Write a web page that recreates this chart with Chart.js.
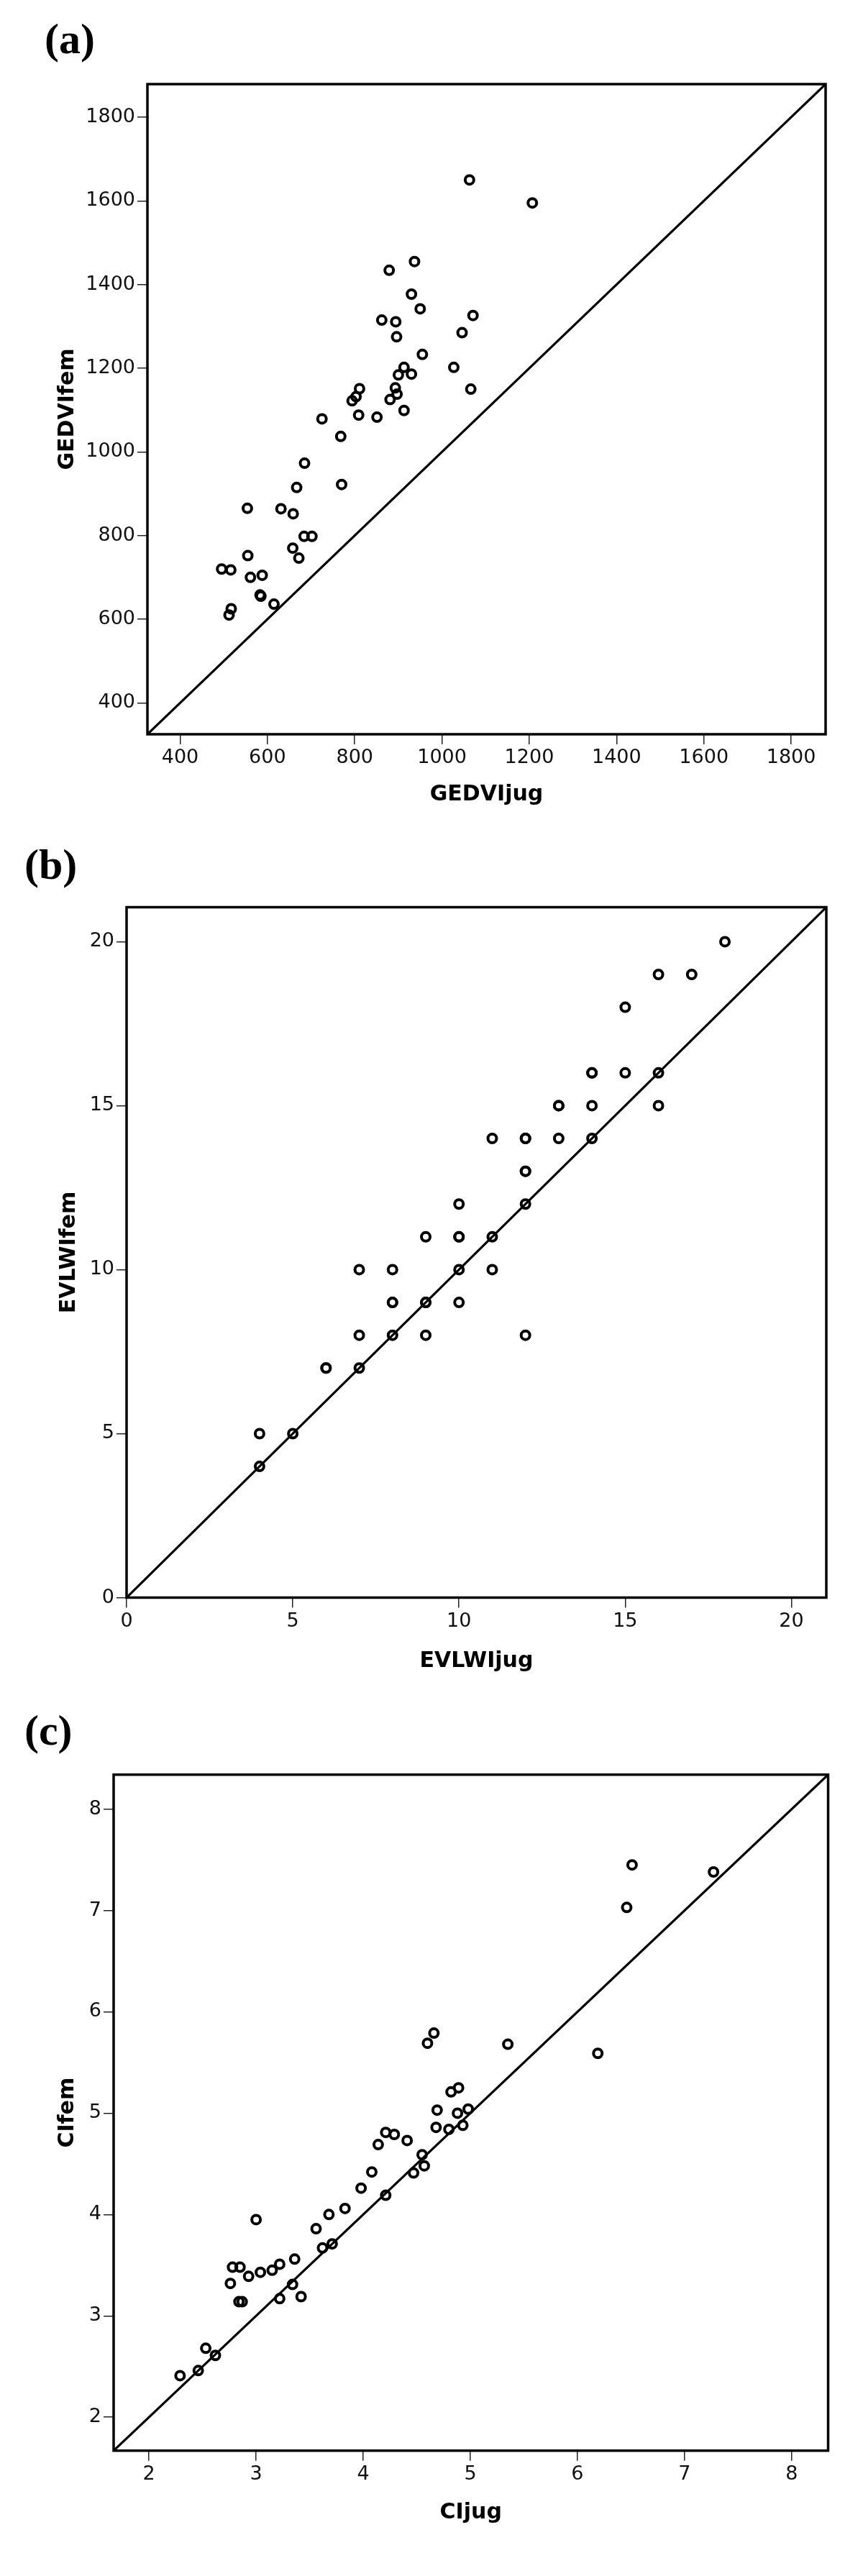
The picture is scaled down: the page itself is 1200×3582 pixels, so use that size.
<!DOCTYPE html>
<html>
<head>
  <meta charset="utf-8">
  <title>Femoral vs jugular: GEDVI, EVLWI, CI</title>
  <script src="https://cdn.jsdelivr.net/npm/chart.js"></script>
  <style>
    body { margin: 0; background: #fff; }
    #page { position: relative; width: 1200px; height: 3582px; }
    .panel-label {
      position: absolute;
      font-family: "Liberation Serif", serif;
      font-weight: bold;
      font-size: 60px;
      line-height: 60px;
      color: #000;
    }
    .chart-box { position: absolute; left: 0; width: 1200px; }
  </style>
</head>
<body>
<div id="page">
  <div class="panel-label" style="left:62px;top:24px">(a)</div>
  <div class="chart-box" style="top:0;height:1160px"><canvas id="chartA"></canvas></div>

  <div class="panel-label" style="left:34px;top:1172px">(b)</div>
  <div class="chart-box" style="top:1160px;height:1200px"><canvas id="chartB"></canvas></div>

  <div class="panel-label" style="left:34px;top:2376px">(c)</div>
  <div class="chart-box" style="top:2360px;height:1222px"><canvas id="chartC"></canvas></div>
</div>

<script>
  // (a) GEDVI
  const gedviJug = [1063,1207,937,879,930,950,1071,862,894,1046,896,955,1027,913,900,930,1066,811,893,897,
                    803,794,881,913,809,851,725,768,685,667,770,554,631,659,684,702,658,672,555,495,
                    516,561,588,583,585,615,517,512];
  const gedviFem = [1650,1595,1455,1434,1377,1342,1326,1315,1311,1285,1275,1233,1202,1202,1184,1186,1150,1151,1153,1138,
                    1132,1122,1125,1099,1088,1083,1079,1037,973,915,922,865,864,852,798,798,770,746,752,720,
                    718,700,705,658,655,636,625,610];
  const gedviTicks = [400,600,800,1000,1200,1400,1600,1800];
  const gedviMin = 325, gedviMax = 1879;

  // (b) EVLWI
  const evlwiJug = [18,16,17,15,14,14,15,16,13,13,14,16,11,12,12,13,14,12,12,10,
                    12,9,10,10,11,7,8,10,11,8,8,9,9,10,7,8,9,12,6,6,7,4,5,4];
  const evlwiFem = [20,19,19,18,16,16,16,16,15,15,15,15,14,14,14,14,14,13,13,12,
                    12,11,11,11,11,10,10,10,10,9,9,9,9,9,8,8,8,8,7,7,7,5,5,4];
  const evlwiTicks = [0,5,10,15,20];
  const evlwiMin = 0, evlwiMax = 21.05;

  // (c) CI
  const ciJug = [6.51,6.46,7.27,4.66,4.60,5.35,6.19,4.82,4.89,4.69,4.88,4.98,4.68,4.80,4.93,4.21,4.29,4.14,4.41,4.55,
                 4.57,4.47,4.08,3.98,4.21,3.83,3.68,3.00,3.56,3.62,3.71,3.36,3.22,3.15,3.04,2.93,2.78,2.85,2.76,3.34,
                 2.84,2.87,3.22,3.42,2.53,2.62,2.46,2.29];
  const ciFem = [7.45,7.03,7.38,5.79,5.69,5.68,5.59,5.21,5.25,5.03,5.00,5.04,4.86,4.84,4.88,4.81,4.79,4.69,4.73,4.59,
                 4.48,4.41,4.42,4.26,4.19,4.06,4.00,3.95,3.86,3.67,3.71,3.56,3.51,3.45,3.43,3.39,3.48,3.48,3.32,3.31,
                 3.14,3.14,3.17,3.19,2.68,2.61,2.46,2.41];
  const ciTicks = [2,3,4,5,6,7,8];
  const ciMin = 1.67, ciMax = 8.34;

  // box around the plot area
  const framePlugin = {
    id: 'frame',
    afterDatasetsDraw(chart) {
      const {ctx, chartArea: a} = chart;
      ctx.save();
      ctx.strokeStyle = '#000';
      ctx.lineWidth = 3.5;
      ctx.strokeRect(a.left, a.top, a.right - a.left, a.bottom - a.top);
      ctx.restore();
    }
  };

  function axis(title, min, max, tickValues, size, titlePad, horizontal) {
    return {
      type: 'linear',
      min: min,
      max: max,
      afterBuildTicks: s => { s.ticks = tickValues.map(v => ({value: v})); },
      afterFit: s => { if (horizontal) s.height = size; else s.width = size; },
      grid: { drawOnChartArea: false, drawTicks: true, tickLength: 14, lineWidth: 1.5, tickWidth: 1.5, tickColor: '#222' },
      border: { display: false },
      ticks: { autoSkip: false, maxRotation: 0, padding: 3, color: '#111',
               callback: v => String(v),
               font: { family: 'DejaVu Sans', size: 27 } },
      title: { display: true, text: title, color: '#000',
               font: { family: 'DejaVu Sans', size: 30, weight: 'bold' },
               padding: horizontal ? {top: 0, bottom: titlePad} : {top: titlePad, bottom: 0} }
    };
  }

  function makeChart(id, xs, ys, lo, hi, ticks, xTitle, yTitle, lay) {
    new Chart(document.getElementById(id).getContext('2d'), {
      type: 'scatter',
      data: {
        datasets: [
          {
            type: 'line',
            data: [{x: lo, y: lo}, {x: hi, y: hi}],
            borderColor: '#000',
            borderWidth: 3.2,
            pointRadius: 0,
            fill: false
          },
          {
            data: xs.map((x, i) => ({x: x, y: ys[i]})),
            pointStyle: 'circle',
            pointRadius: 6,
            pointHoverRadius: 6,
            borderWidth: 4,
            borderColor: '#000',
            backgroundColor: 'rgba(0,0,0,0)'
          }
        ]
      },
      options: {
        responsive: true,
        maintainAspectRatio: false,
        animation: false,
        layout: { padding: { left: 0, top: lay.top, right: lay.right, bottom: 0 } },
        plugins: { legend: { display: false }, tooltip: { enabled: false } },
        scales: {
          x: axis(xTitle, lo, hi, ticks, lay.xh, lay.xpad, true),
          y: axis(yTitle, lo, hi, ticks, lay.yw, lay.ypad, false)
        }
      },
      plugins: [framePlugin]
    });
  }

  makeChart('chartA', gedviJug, gedviFem, gedviMin, gedviMax, gedviTicks, 'GEDVIjug', 'GEDVIfem',
            {top: 117, right: 52, xh: 139, xpad: 37, yw: 205, ypad: 76});
  makeChart('chartB', evlwiJug, evlwiFem, evlwiMin, evlwiMax, evlwiTicks, 'EVLWIjug', 'EVLWIfem',
            {top: 101.5, right: 51, xh: 138.5, xpad: 32, yw: 176, ypad: 78});
  makeChart('chartC', ciJug, ciFem, ciMin, ciMax, ciTicks, 'CIjug', 'CIfem',
            {top: 107.7, right: 48.5, xh: 174.3, xpad: 70, yw: 158, ypad: 76});
</script>
</body>
</html>
